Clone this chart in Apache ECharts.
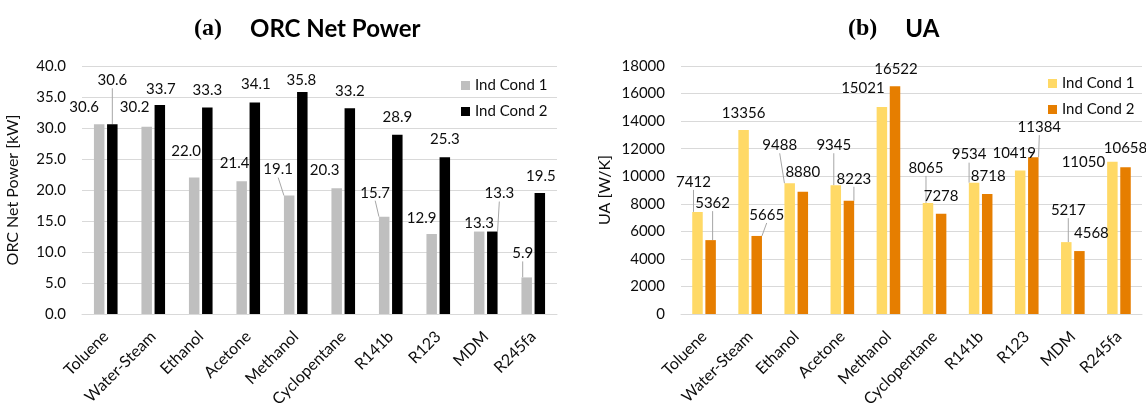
<!DOCTYPE html>
<html>
<head>
<meta charset="utf-8">
<title>ORC Net Power / UA</title>
<script src="https://cdn.jsdelivr.net/npm/echarts@6/dist/echarts.min.js"></script>
<style>
  html, body { margin: 0; padding: 0; background: #fff; }
  #chart { width: 1146px; height: 403px; }
</style>
</head>
<body>
<div id="chart"></div>
<script>
  // working fluids (x categories, same for both panels)
  const fluids = ['Toluene', 'Water-Steam', 'Ethanol', 'Acetone', 'Methanol', 'Cyclopentane', 'R141b', 'R123', 'MDM', 'R245fa'];

  // (a) ORC net power [kW]
  const powerCond1 = [30.6, 30.2, 22.0, 21.4, 19.1, 20.3, 15.7, 12.9, 13.3, 5.9];
  const powerCond2 = [30.6, 33.7, 33.3, 34.1, 35.8, 33.2, 28.9, 25.3, 13.3, 19.5];
  const powerTicks = [0, 5, 10, 15, 20, 25, 30, 35, 40];

  // (b) UA [W/K]
  const uaCond1 = [7412, 13356, 9488, 9345, 15021, 8065, 9534, 10419, 5217, 11050];
  const uaCond2 = [5362, 5665, 8880, 8223, 16522, 7278, 8718, 11384, 4568, 10658];
  const uaTicks = [0, 2000, 4000, 6000, 8000, 10000, 12000, 14000, 16000, 18000];

  // label nudges (px) and which labels get a leader line, like the excel original
  const powerNudge1 = [[-15, -9], [-12, -12], [-8, -18], [-7, -10], [-11, -18], [-12, -10], [-9, -16], [-10, -8], [0, 0], [-4, -16]];
  const powerLead1 = [0, 0, 0, 0, 1, 0, 1, 0, 0, 1];
  const powerNudge2 = [[0, -36], [1, -8], [0, -9], [1, -10], [-1, -4], [0, -9], [0, -10], [0, -10], [7, -30], [1, -9]];
  const powerLead2 = [1, 0, 0, 0, 0, 0, 0, 0, 1, 0];
  const uaNudge1 = [[-4, -22], [0, -9], [-10, -30], [-2, -32], [-19, -11], [-2, -27], [-5, -20], [-6, -9], [2, -24], [-29, 8]];
  const uaLead1 = [1, 0, 1, 1, 0, 1, 1, 0, 1, 0];
  const uaNudge2 = [[2, -29], [10, -13], [0, -11], [5, -14], [1, -9], [0, -10], [1, -10], [6, -22], [12, -10], [0, -11]];
  const uaLead2 = [1, 1, 0, 1, 0, 0, 0, 1, 0, 0];

  const FONT = 'Lato';
  const TEXT = '#0d0d0d';
  const GRIDLINE = '#d9d9d9';

  const toItems = (values, lead) =>
    values.map((v, i) => ({ value: v, labelLine: { show: !!lead[i] } }));

  const nudge = (offsets) => (p) => ({ dx: offsets[p.dataIndex][0], dy: offsets[p.dataIndex][1] });

  const barSeries = (name, color, axis, values, lead, offsets, decimals) => ({
    name: name,
    type: 'bar',
    xAxisIndex: axis,
    yAxisIndex: axis,
    barWidth: 10.5,
    barGap: '25%',
    itemStyle: { color: color },
    label: {
      show: true,
      position: 'top',
      distance: 0,
      fontFamily: FONT,
      fontSize: 15,
      lineHeight: 16,
      color: TEXT,
      formatter: (p) => p.value.toFixed(decimals),
    },
    labelLine: { show: false, lineStyle: { color: '#a6a6a6', width: 1 } },
    labelLayout: nudge(offsets),
    data: toItems(values, lead),
  });

  const xAxisFor = (idx) => ({
    type: 'category',
    gridIndex: idx,
    data: fluids,
    axisTick: { show: false },
    axisLine: { lineStyle: { color: GRIDLINE } },
    axisLabel: { interval: 0, rotate: 45, margin: 20, fontFamily: FONT, fontSize: 16, color: TEXT },
  });

  const yAxisFor = (idx, ticks, name, nameGap, decimals) => ({
    type: 'value',
    gridIndex: idx,
    min: ticks[0],
    max: ticks[ticks.length - 1],
    interval: ticks[1] - ticks[0],
    name: name,
    nameLocation: 'middle',
    nameGap: nameGap,
    nameTextStyle: { fontFamily: FONT, fontSize: 16, color: TEXT },
    axisLine: { show: false },
    axisTick: { show: false },
    splitLine: { lineStyle: { color: GRIDLINE } },
    axisLabel: {
      margin: 16, fontFamily: FONT, fontSize: 15, color: TEXT,
      formatter: (v) => v.toFixed(decimals),
    },
  });

  const titleRich = {
    p: { fontFamily: 'Liberation Serif', fontWeight: 'bold', fontSize: 24, color: '#000', padding: [0, 28, 0, 0] },
    t: { fontFamily: FONT, fontWeight: 'bold', fontSize: 24, color: '#000' },
  };

  const legendFor = (left, top, c1, c2) => ({
    orient: 'vertical',
    left: left,
    top: top,
    itemWidth: 9,
    itemHeight: 9,
    itemGap: 11,
    icon: 'rect',
    textStyle: { fontFamily: FONT, fontSize: 15, color: TEXT },
    data: [
      { name: 'Ind Cond 1', itemStyle: { color: c1 } },
      { name: 'Ind Cond 2', itemStyle: { color: c2 } },
    ],
  });

  const chart = echarts.init(document.getElementById('chart'));

  chart.setOption({
    animation: false,
    textStyle: { fontFamily: FONT },
    title: [
      { text: '{p|(a)}{t|ORC Net Power}', left: 189, top: 12, textStyle: { rich: titleRich } },
      { text: '{p|(b)}{t|UA}', left: 843, top: 12, textStyle: { rich: titleRich } },
    ],
    legend: [
      legendFor(456, 73, '#bfbfbf', '#000000'),
      legendFor(1043, 71, '#ffd966', '#e67e00'),
    ],
    // outerBoundsMode none: keep the plot rectangles fixed, long labels may run off the bottom
    grid: [
      { left: 82, right: 589, top: 66, bottom: 89, outerBoundsMode: 'none' },
      { left: 681, right: 4, top: 66, bottom: 89, outerBoundsMode: 'none' },
    ],
    xAxis: [xAxisFor(0), xAxisFor(1)],
    yAxis: [
      yAxisFor(0, powerTicks, 'ORC Net Power [kW]', 61, 1),
      yAxisFor(1, uaTicks, 'UA [W/K]', 68, 0),
    ],
    series: [
      barSeries('Ind Cond 1', '#bfbfbf', 0, powerCond1, powerLead1, powerNudge1, 1),
      barSeries('Ind Cond 2', '#000000', 0, powerCond2, powerLead2, powerNudge2, 1),
      barSeries('Ind Cond 1', '#ffd966', 1, uaCond1, uaLead1, uaNudge1, 0),
      barSeries('Ind Cond 2', '#e67e00', 1, uaCond2, uaLead2, uaNudge2, 0),
    ],
  });
</script>
</body>
</html>
